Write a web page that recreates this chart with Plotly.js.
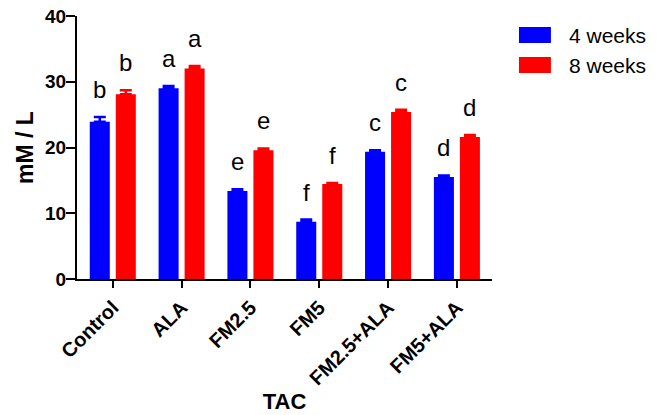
<!DOCTYPE html>
<html>
<head>
<meta charset="utf-8">
<script src="https://cdn.plot.ly/plotly-3.0.1.min.js"></script>
<style>html,body{margin:0;padding:0;background:#fff;}#chart{width:664px;height:415px;}</style>
</head>
<body>
<div id="chart"></div>
<script>
var categories = ["Control", "ALA", "FM2.5", "FM5", "FM2.5+ALA", "FM5+ALA"];
var seriesNames = ["4 weeks", "8 weeks"];
var weeks4 = [23.9, 29.0, 13.4, 8.7, 19.35, 15.5];
var weeks4Err = [0.75, 0.35, 0.25, 0.35, 0.25, 0.25];
var weeks8 = [28.1, 32.0, 19.6, 14.45, 25.4, 21.6];
var weeks8Err = [0.6, 0.4, 0.25, 0.15, 0.35, 0.3];
var letters4 = ["b", "a", "e", "f", "c", "d"];
var letters8 = ["b", "a", "e", "f", "c", "d"];
var yTicks = [0, 10, 20, 30, 40];

var blue = "#0000FF", red = "#FF0000";
var FONT = "Liberation Sans, Arial, Helvetica, sans-serif";

function zeros(n){ var a=[]; for(var i=0;i<n;i++) a.push(0); return a; }

var traces = [
  {type:"bar", name:seriesNames[0], x:categories, y:weeks4, marker:{color:blue},
   error_y:{type:"data", symmetric:false, array:weeks4Err, arrayminus:zeros(weeks4.length), color:blue, thickness:2.5, width:6}},
  {type:"bar", name:seriesNames[1], x:categories, y:weeks8, marker:{color:red},
   error_y:{type:"data", symmetric:false, array:weeks8Err, arrayminus:zeros(weeks8.length), color:red, thickness:2.5, width:6}}
];

var annotations = [];
var slotShift = 13;
categories.forEach(function(c, i){
  annotations.push({x:c, y:weeks4[i]+weeks4Err[i], xref:"x", yref:"y", text:letters4[i], showarrow:false,
    xanchor:"center", yanchor:"bottom", xshift:-slotShift, yshift:12, font:{family:FONT, size:24, color:"#000"}});
  annotations.push({x:c, y:weeks8[i]+weeks8Err[i], xref:"x", yref:"y", text:letters8[i], showarrow:false,
    xanchor:"center", yanchor:"bottom", xshift:slotShift, yshift:12, font:{family:FONT, size:24, color:"#000"}});
});
// legend
var legColors = [blue, red];
var legY = [[0.958, 0.897], [0.844, 0.783]];
var shapes = [];
seriesNames.forEach(function(n, i){
  shapes.push({type:"rect", xref:"paper", yref:"paper", x0:1.065, x1:1.142, y0:legY[i][1], y1:legY[i][0],
    fillcolor:legColors[i], line:{width:0}});
  annotations.push({xref:"paper", yref:"paper", x:1.18, y:(legY[i][0]+legY[i][1])/2, text:n, showarrow:false,
    xanchor:"left", yanchor:"middle", font:{family:FONT, size:21, color:"#000"}});
});

var layout = {
  width:664, height:415,
  margin:{l:77, r:172, t:16, b:136, pad:0},
  paper_bgcolor:"#fff", plot_bgcolor:"#fff",
  barmode:"group", bargap:0.244, bargroupgap:0.23,
  showlegend:false,
  font:{family:FONT, color:"#000"},
  xaxis:{type:"category", range:[-0.52, 5.51], showline:true, linecolor:"#000", linewidth:2,
    ticks:"outside", ticklen:7, tickwidth:2, tickcolor:"#000", tickangle:-45,
    tickfont:{family:FONT, size:20, weight:700, color:"#000"}, showgrid:false, zeroline:false, fixedrange:true,
    title:{text:"TAC", font:{family:FONT, size:22, weight:700, color:"#000"}, standoff:3}},
  yaxis:{range:[0, 40], tickvals:yTicks, ticktext:yTicks.map(String), showline:true, linecolor:"#000", linewidth:2,
    ticks:"outside", ticklen:9, tickwidth:2, tickcolor:"#000", ticklabelstandoff:-4,
    tickfont:{family:FONT, size:19, weight:700, color:"#000"}, showgrid:false, zeroline:false, fixedrange:true,
    title:{text:"mM / L", font:{family:FONT, size:23, weight:700, color:"#000"}, standoff:5}},
  annotations:annotations, shapes:shapes
};

Plotly.newPlot("chart", traces, layout, {displayModeBar:false, staticPlot:true});
</script>
</body>
</html>
